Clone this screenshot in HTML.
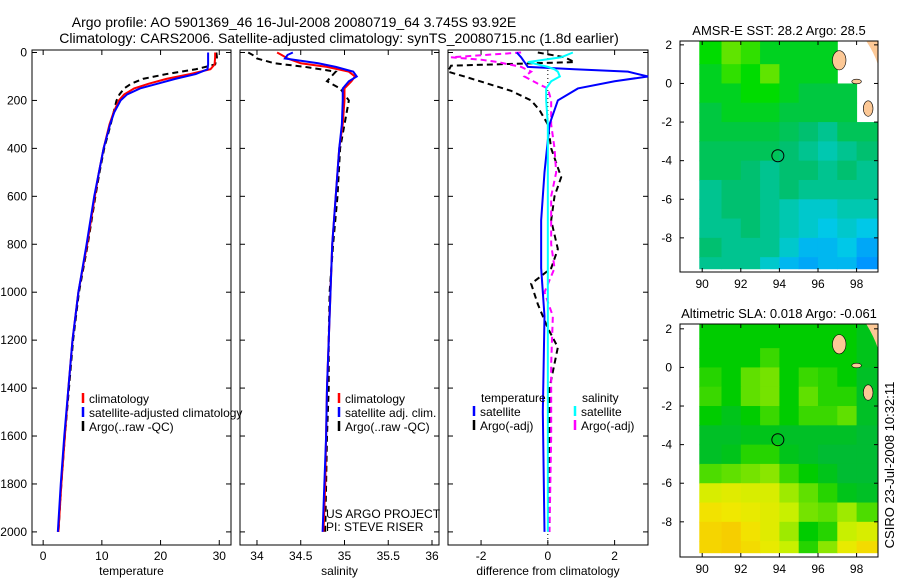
<!DOCTYPE html>
<html><head><meta charset="utf-8"><style>
body{margin:0;background:#fff}
svg text{font-family:"Liberation Sans",sans-serif;font-size:12px;fill:#000}
</style></head><body>
<svg id="c" width="900" height="580" viewBox="0 0 900 580">
<text x="294" y="27" text-anchor="middle" style="font-size:14px">Argo profile: AO 5901369_46 16-Jul-2008 20080719_64 3.745S 93.92E</text>
<text x="339" y="43" text-anchor="middle" style="font-size:14px">Climatology: CARS2006. Satellite-adjusted climatology: synTS_20080715.nc (1.8d earlier)</text>
<text transform="translate(894,465) rotate(-90)" text-anchor="middle" style="font-size:13px">CSIRO 23-Jul-2008 10:32:11</text>
</svg>
<script>
// ---------- data ----------
const tDepth=[0,20,50,70,90,110,130,150,175,200,250,300,400,500,600,800,1000,1200,1400,1600,1800,2000];
const tClim=[29.3,29.3,29.2,28.5,25,21,18,15.5,13.8,12.9,12,11.3,10.3,9.5,8.8,7.5,6,5,4.3,3.7,3.1,2.6];
const tSat=[28.1,28.1,28.1,28.0,26,22.5,19.5,16.5,14.3,13.2,12.1,11.4,10.3,9.5,8.7,7.4,6,5,4.3,3.6,3.0,2.5];
const tArgo=[29.5,29.6,29.3,26,21,17,15,13.8,13,12.5,12,11.5,10.4,9.6,8.9,7.6,6.1,5.1,4.4,3.7,3.1,2.6];
const sDepth=[0,10,25,45,60,80,100,120,150,200,300,400,600,800,1000,1200,1400,1600,1800,2000];
const sClim=[34.23,34.28,34.35,34.5,34.8,35.05,35.12,35.08,35.0,35.0,34.98,34.94,34.9,34.86,34.84,34.82,34.8,34.79,34.78,34.76];
const sSat=[34.41,34.35,34.32,34.7,34.9,35.1,35.14,35.05,34.98,34.98,34.97,34.94,34.9,34.86,34.84,34.82,34.8,34.79,34.77,34.75];
const sArgo=[33.9,33.95,34.0,34.2,34.55,34.9,34.85,34.8,34.95,35.05,35.0,34.95,34.92,34.87,34.83,34.82,34.82,34.8,34.79,34.78];
const dDepth=[0,20,40,60,70,80,100,120,150,200,300,500,700,900,1100,1500,2000];
const dTempSat=[-0.93,-0.8,-0.7,-0.6,0.8,2.4,3.0,2.0,0.9,0.3,0.05,-0.1,-0.2,-0.2,-0.1,-0.15,-0.1];
const dSalSat=[0.75,0.4,-0.6,0.0,0.2,0.3,0.36,0.1,-0.05,-0.05,0,0,0,0,0,0,0];
const taDepth=[0,20,40,55,80,100,130,160,200,240,300,400,520,600,700,820,900,965,1050,1150,1230,1400,2000];
const dTempArgo=[-0.3,0.5,0.8,-2.9,-3.0,-2.5,-1.8,-1.1,-0.5,-0.25,0,0.1,0.4,0.2,0.1,0.3,0.1,-0.5,-0.3,0,0.3,0.05,0.05];
const saDepth=[0,20,30,40,60,80,100,130,150,200,300,400,500,600,800,900,1000,1100,1300,1600,2000];
const dSalArgo=[-0.8,-2.9,-2.0,-1.5,-0.8,-0.5,-0.7,-0.3,0,0.1,0.1,0.2,0.25,0.1,0.1,0.2,-0.1,0.15,0.1,0.1,0.05];
const depthTicks=[0,200,400,600,800,1000,1200,1400,1600,1800,2000];
const tTicks=[0,10,20,30];
const sTicks=[34,34.5,35,35.5,36];
const sTickLabels=['34','34.5','35','35.5','36'];
const dTicks=[-2,0,2];
const lonTicks=[90,92,94,96,98];
const latTicks=[2,0,-2,-4,-6,-8];
const sstGrid=[
[28.5,28.7,28.6,28.4,28.4,28.4,28.4,NaN,NaN],
[28.4,28.6,28.5,28.7,28.4,28.4,28.4,NaN,NaN],
[28.4,28.4,28.5,28.5,28.4,28.3,28.3,28.3,NaN],
[28.3,28.4,28.4,28.4,28.3,28.3,28.3,28.3,NaN],
[28.3,28.3,28.3,28.3,28.2,28.1,28.0,28.2,28.2],
[28.2,28.2,28.2,28.2,28.1,28.0,27.9,28.0,28.1],
[28.2,28.2,28.1,28.0,28.1,28.1,28.0,28.1,28.0],
[28.0,28.1,28.1,28.0,28.1,28.0,28.0,28.0,28.0],
[28.0,28.1,28.1,28.0,27.9,27.8,27.8,27.9,27.9],
[28.0,28.0,28.1,28.0,27.9,27.8,27.7,27.8,27.7],
[28.1,28.0,28.0,28.0,27.8,27.6,27.6,27.7,27.5],
[28.0,28.0,28.0,27.8,27.6,27.5,27.6,27.6,27.4]];
const slaGrid=[
[0,0,0,0,0,0,0,0,-0.02],
[0,0,0,0.03,0,0,0,0,-0.02],
[0.02,0,0.05,0.06,0,0.03,0.02,0,-0.03],
[0.03,0,0.05,0.06,0,0.05,0.02,0.02,-0.03],
[0,-0.02,0,0.03,0,0.03,0.03,0.05,-0.03],
[-0.03,-0.03,-0.02,-0.02,-0.03,-0.03,-0.03,-0.03,-0.04],
[-0.03,-0.02,0.02,0.02,-0.02,-0.03,-0.04,-0.04,-0.04],
[0.04,0.05,0.06,0.07,0.03,0,-0.02,-0.04,-0.04],
[0.12,0.13,0.12,0.12,0.08,0.05,0.02,-0.02,-0.03],
[0.16,0.15,0.14,0.13,0.10,0.06,0.05,0.08,0.04],
[0.18,0.19,0.16,0.13,0.08,0.0,0.02,0.10,0.12],
[0.18,0.19,0.17,0.14,0.1,0.02,0.07,0.14,0.17]];
const argoLon=93.92, argoLat=-3.745;

// ---------- drawing ----------
const svg=document.getElementById('c');
const NS='http://www.w3.org/2000/svg';
function mk(tag,at,parent){const e=document.createElementNS(NS,tag);for(const k in at)e.setAttribute(k,at[k]);(parent||svg).appendChild(e);return e;}
const PT=50,PB=545;
const yD=d=>52.5+d*0.2397;
function panel(name,x0,x1,vmin,vmax,ticks,labels,xlabel){
  const xs=v=>x0+(v-vmin)/(vmax-vmin)*(x1-x0);
  const g=mk('g',{});
  
  
  const r=mk('rect',{x:x0,y:PT,width:x1-x0,height:PB-PT,fill:'none',stroke:'#000','stroke-width':1},g);
  
  
  ticks.forEach((t,i)=>{const x=xs(t);
    mk('line',{x1:x,x2:x,y1:PB,y2:PB-5,stroke:'#000'},g);mk('line',{x1:x,x2:x,y1:PT,y2:PT+5,stroke:'#000'},g);
    const tx=mk('text',{x:x,y:PB+15,'text-anchor':'middle'},g);tx.textContent=labels[i];
    
    });
  depthTicks.forEach(d=>{const y=yD(d);
    mk('line',{x1:x0,x2:x0+5,y1:y,y2:y,stroke:'#000'},g);mk('line',{x1:x1,x2:x1-5,y1:y,y2:y,stroke:'#000'},g);});
  const xl=mk('text',{x:(x0+x1)/2,y:PB+30,'text-anchor':'middle'},g);xl.textContent=xlabel;
  
  
  return {g,xs,x0,x1};
}
function series(p,depths,vals,color,dash,w,name){
  const pts=depths.map((d,i)=>[Math.max(p.x0,Math.min(p.x1,p.xs(vals[i]))),yD(d)]);
  const pl=mk('polyline',{points:pts.map(q=>q.join(',')).join(' '),fill:'none',stroke:color,'stroke-width':w,'stroke-dasharray':dash||'none'},p.g);
  
  
}
function legend(p,x,y,color,label,name){
  mk('line',{x1:x,x2:x,y1:y-10,y2:y,stroke:color,'stroke-width':2.5},p.g);
  const t=mk('text',{x:x+6,y:y},p.g);t.textContent=label;
  
  
}
depthTicks.forEach(d=>{const t=mk('text',{x:27,y:yD(d)+4,'text-anchor':'end'});t.textContent=d;
  
  });

const p1=panel('temperature-panel',32,231,-1.9,32.0,tTicks,tTicks.map(String),'temperature');
series(p1,tDepth,tArgo,'#000','6,4',2,'argo-temperature-line');
series(p1,tDepth,tClim,'#f00','',2,'climatology-temperature-line');
series(p1,tDepth,tSat,'#00f','',2,'satellite-temperature-line');
legend(p1,83,403,'#f00','climatology','legend-climatology');
legend(p1,83,417,'#00f','satellite-adjusted climatology','legend-satellite');
legend(p1,83,431,'#000','Argo(..raw -QC)','legend-argo');

const p2=panel('salinity-panel',240,439,33.806,36.08,sTicks,sTickLabels,'salinity');
series(p2,sDepth,sArgo,'#000','6,4',2,'argo-salinity-line');
series(p2,sDepth,sClim,'#f00','',2,'climatology-salinity-line');
series(p2,sDepth,sSat,'#00f','',2,'satellite-salinity-line');
legend(p2,339,403,'#f00','climatology','legend-climatology');
legend(p2,339,417,'#00f','satellite adj. clim.','legend-satellite');
legend(p2,339,431,'#000','Argo(..raw -QC)','legend-argo');
const pr1=mk('text',{x:326,y:518});pr1.textContent='US ARGO PROJECT';


const pr2=mk('text',{x:326,y:531});pr2.textContent='PI: STEVE RISER';



const p3=panel('difference-panel',448,648,-2.99,3.0,dTicks,dTicks.map(String),'difference from climatology');
mk('line',{x1:p3.xs(0),x2:p3.xs(0),y1:PT,y2:PB,stroke:'#000','stroke-dasharray':'1,3'},p3.g);
series(p3,taDepth,dTempArgo,'#000','6,4',2,'argo-temp-diff-line');
series(p3,saDepth,dSalArgo,'#f0f','6,4',2,'argo-sal-diff-line');
series(p3,dDepth,dTempSat,'#00f','',2,'sat-temp-diff-line');
series(p3,dDepth,dSalSat,'#0ff','',2,'sat-sal-diff-line');
const lt=mk('text',{x:481,y:402},p3.g);lt.textContent='temperature';


const ls=mk('text',{x:582,y:402},p3.g);ls.textContent='salinity';


legend(p3,474,416,'#00f','satellite','legend-temp-satellite');
legend(p3,474,430,'#000','Argo(-adj)','legend-temp-argo');
legend(p3,575,416,'#0ff','satellite','legend-sal-satellite');
legend(p3,575,430,'#f0f','Argo(-adj)','legend-sal-argo');

function rgb(c){return 'rgb('+c.join(',')+')';}
function interp(stops,v){
  if(v<=stops[0][0])return rgb(stops[0][1]);
  for(let i=1;i<stops.length;i++){if(v<=stops[i][0]){const a=stops[i-1],b=stops[i],f=(v-a[0])/(b[0]-a[0]);
    return rgb([0,1,2].map(k=>Math.round(a[1][k]+f*(b[1][k]-a[1][k]))));}}
  return rgb(stops[stops.length-1][1]);
}
const sstStops=[[27.4,[0,150,255]],[27.7,[0,200,232]],[27.9,[0,200,176]],[28.1,[0,192,112]],[28.3,[0,200,64]],[28.5,[0,220,0]],[28.8,[144,232,0]]];
const slaStops=[[-0.05,[0,184,64]],[0,[0,204,0]],[0.05,[96,224,0]],[0.1,[200,240,0]],[0.15,[240,232,0]],[0.2,[248,200,0]]];
function mapPanel(name,title,fy0,fy1,latTop,grid,stops){
  const fx0=680,fx1=878,lon0=88.85,sc=19.3;
  const xs=lo=>fx0+(lo-lon0)*sc, ys=la=>fy0+(latTop-la)*sc;
  const g=mk('g',{});
  
  
  grid.forEach((row,i)=>{const lt=i===0?latTop:2-i, lb=i===grid.length-1?-9.6:1-i;
    row.forEach((v,j)=>{if(isNaN(v))return;const l=j===0?89.85:90+j, r=j===8?99.1:91+j;
      const c=mk('rect',{x:xs(l),y:ys(lt),width:xs(r)-xs(l)+0.5,height:ys(lb)-ys(lt)+0.5,fill:interp(stops,v)},g);
      
      });});
  [[97.1,1.2,0.35,0.5],[98.6,-1.3,0.25,0.4],[98.0,0.1,0.25,0.12]].forEach(s=>{
    const e=mk('ellipse',{cx:xs(s[0]),cy:ys(s[1]),rx:s[2]*sc,ry:s[3]*sc,fill:'#fcc896',stroke:'#000','stroke-width':0.6},g);
    
    });
  mk('path',{d:`M${xs(98.5)},${ys(latTop)} Q${xs(98.9)},${ys(1.6)} ${xs(99.1)},${ys(1.0)} L${xs(99.1)},${ys(latTop)} Z`,fill:'#fcc896'},g);
  const ci=mk('circle',{cx:xs(argoLon),cy:ys(argoLat),r:6,fill:'none',stroke:'#000','stroke-width':1},g);
  
  
  mk('rect',{x:fx0,y:fy0,width:fx1-fx0,height:fy1-fy0,fill:'none',stroke:'#000'},g);
  lonTicks.forEach(lo=>{const x=xs(lo);mk('line',{x1:x,x2:x,y1:fy1,y2:fy1-4,stroke:'#000'},g);mk('line',{x1:x,x2:x,y1:fy0,y2:fy0+4,stroke:'#000'},g);
    const t=mk('text',{x:x,y:fy1+16,'text-anchor':'middle'},g);t.textContent=lo;
    
    });
  latTicks.forEach(la=>{const y=ys(la);mk('line',{x1:fx0,x2:fx0+4,y1:y,y2:y,stroke:'#000'},g);mk('line',{x1:fx1,x2:fx1-4,y1:y,y2:y,stroke:'#000'},g);
    const t=mk('text',{x:fx0-8,y:y+4,'text-anchor':'end'},g);t.textContent=la;
    
    });
  const tt=mk('text',{x:(fx0+fx1)/2,y:fy0-6,'text-anchor':'middle',style:'font-size:13px'},g);tt.textContent=title;
  
  
}
mapPanel('sst-map','AMSR-E SST: 28.2 Argo: 28.5',41,272,2.2,sstGrid,sstStops);
mapPanel('sla-map','Altimetric SLA: 0.018 Argo: -0.061',324,557,2.25,slaGrid,slaStops);
</script>
</body></html>
